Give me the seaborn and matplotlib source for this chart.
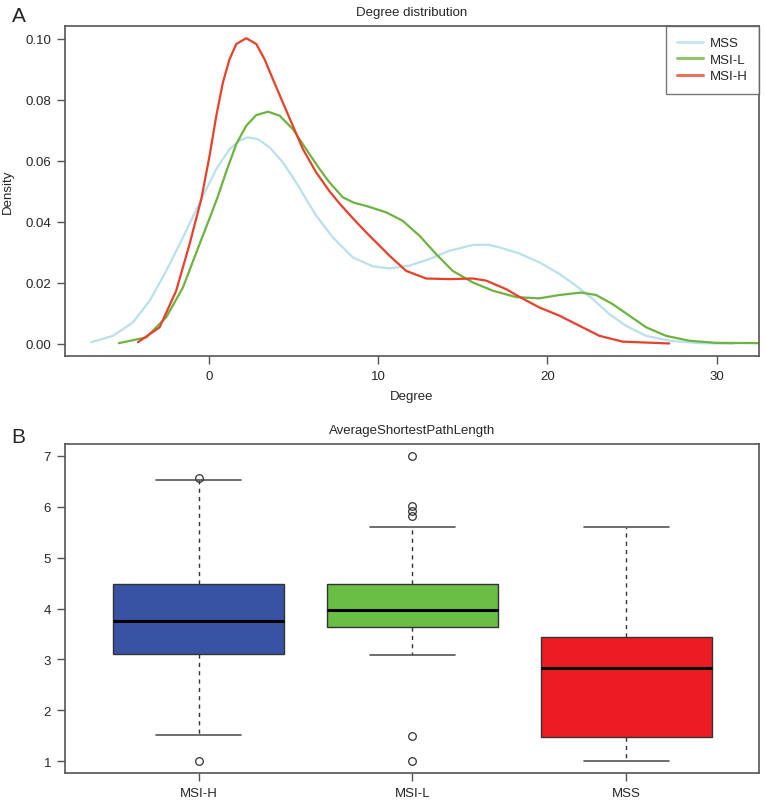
import numpy as np
import pandas as pd
import matplotlib
matplotlib.use("Agg")
import matplotlib.pyplot as plt
import seaborn as sns

# ---------------- data ----------------
mss_deg = [-6.95, -5.67, -4.49, -3.50, -2.52, -1.53, -0.55, -0.35, 0.44, 1.22, 1.81, 2.30, 2.89,
           3.59, 4.37, 5.16, 5.75, 6.34, 7.32, 8.51, 9.69, 10.67, 11.85, 13.04, 14.22, 15.60,
           16.50, 17.17, 18.35, 19.53, 20.72, 21.70, 22.68, 23.67, 24.65, 25.84, 27.21, 28.98, 31.0]
mss_den = [0.0005, 0.0026, 0.0070, 0.0141, 0.0239, 0.0349, 0.0462, 0.0485, 0.0573, 0.0638, 0.0666,
           0.0677, 0.0671, 0.0644, 0.0595, 0.0529, 0.0474, 0.0420, 0.0349, 0.0283, 0.0254, 0.0247,
           0.0256, 0.0278, 0.0305, 0.0324, 0.0325, 0.0316, 0.0296, 0.0267, 0.0229, 0.0190, 0.0147,
           0.0097, 0.0059, 0.0026, 0.0010, 0.0002, 0.0]

msil_deg = [-5.32, -3.70, -2.52, -1.53, -0.55, 0.24, 0.53, 1.03, 1.62, 2.21, 2.80, 3.49, 4.18,
            4.96, 5.75, 6.54, 7.13, 7.92, 8.60, 9.30, 10.48, 11.46, 12.45, 13.43, 14.41, 15.60,
            16.78, 18.16, 19.53, 20.72, 22.0, 22.88, 23.86, 24.85, 25.84, 27.02, 28.39, 29.97, 33.0]
msil_den = [0.0002, 0.0021, 0.0087, 0.0185, 0.0327, 0.0440, 0.0483, 0.0565, 0.0655, 0.0715, 0.0750,
            0.0761, 0.0748, 0.0704, 0.0638, 0.0573, 0.0529, 0.0480, 0.0462, 0.0452, 0.0431, 0.0403,
            0.0354, 0.0294, 0.0239, 0.0201, 0.0174, 0.0153, 0.0149, 0.0160, 0.0168, 0.0160, 0.0130,
            0.0092, 0.0054, 0.0026, 0.0010, 0.0003, 0.0002]

msih_deg = [-4.19, -2.91, -1.93, -1.14, -0.45, 0.04, 0.44, 0.83, 1.22, 1.62, 2.21, 2.80, 3.29,
            3.78, 4.37, 4.96, 5.56, 6.34, 7.13, 7.72, 8.50, 9.30, 10.67, 11.66, 12.84, 14.22,
            15.60, 16.39, 17.57, 18.35, 19.53, 20.72, 21.90, 23.08, 24.45, 27.2]
msih_den = [0.0005, 0.0054, 0.0174, 0.0327, 0.0474, 0.0616, 0.0748, 0.0857, 0.0933, 0.0983, 0.1002,
            0.0983, 0.0933, 0.0868, 0.0791, 0.0715, 0.0638, 0.0562, 0.0500, 0.0460, 0.0412, 0.0365,
            0.0289, 0.0239, 0.0214, 0.0212, 0.0214, 0.0207, 0.0179, 0.0154, 0.0119, 0.0092, 0.0059,
            0.0026, 0.0007, 0.0001]

density_groups = ["MSS", "MSI-L", "MSI-H"]
density_colors = ["#b9e0ec", "#6cb43f", "#e8402a"]

box_groups = ["MSI-H", "MSI-L", "MSS"]
box_colors = ["#3953a4", "#6bbe45", "#ed1c24"]
box_q1 = [3.10, 3.64, 1.48]
box_med = [3.75, 3.98, 2.83]
box_q3 = [4.49, 4.49, 3.45]
box_whislo = [1.51, 3.08, 1.00]
box_whishi = [6.52, 5.61, 5.61]
box_fliers = [[6.56, 1.00], [6.99, 6.02, 5.92, 5.81, 1.50, 1.00], []]

# ---------------- styling ----------------
sns.set_style("white")
plt.rcParams["font.family"] = ["Liberation Sans", "DejaVu Sans"]
axcol = "#555555"

fig = plt.figure(figsize=(7.65, 8.04), dpi=100)
axA = fig.add_axes([0.085, 0.556, 0.907, 0.4104])
axB = fig.add_axes([0.085, 0.0373, 0.907, 0.4092])

# ---------------- panel A ----------------
series = [(mss_deg, mss_den), (msil_deg, msil_den), (msih_deg, msih_den)]
for (xs, ys), name, col in zip(series, density_groups, density_colors):
    df = pd.DataFrame({"Degree": xs, "Density": ys})
    sns.lineplot(data=df, x="Degree", y="Density", ax=axA, color=col, lw=1.6,
                 label=name, sort=False, estimator=None,
                 solid_joinstyle="round", solid_capstyle="round")

axA.set_xlim(-8.5, 32.5)
axA.set_ylim(-0.004, 0.1042)
axA.set_xticks([0, 10, 20, 30])
axA.set_yticks([0.0, 0.02, 0.04, 0.06, 0.08, 0.10])
axA.set_yticklabels(["0.00", "0.02", "0.04", "0.06", "0.08", "0.10"])
axA.set_xlabel("Degree", fontsize=9.5, labelpad=6)
axA.set_ylabel("Density", fontsize=9.5, labelpad=8)
axA.set_title("Degree distribution", fontsize=9.5, pad=8)
leg = axA.legend(loc="upper right", fontsize=9.5, frameon=True, fancybox=False,
                 borderaxespad=0, handlelength=1.9, borderpad=0.85, labelspacing=0.32,
                 handletextpad=0.55)
leg.get_frame().set_edgecolor(axcol)
leg.get_frame().set_linewidth(1.0)
for h in leg.get_lines():
    h.set_linewidth(2.2)
    h.set_alpha(0.75)
fig.text(0.015, 0.98, "A", fontsize=15, va="center", ha="left")

# ---------------- panel B ----------------
stats = []
for i, g in enumerate(box_groups):
    stats.append(dict(label=g, q1=box_q1[i], med=box_med[i], q3=box_q3[i],
                      whislo=box_whislo[i], whishi=box_whishi[i], fliers=box_fliers[i]))
bp = axB.bxp(stats, positions=[1, 2, 3], widths=0.8, patch_artist=True,
             showfliers=True,
             boxprops=dict(edgecolor="#333333", linewidth=1.0),
             medianprops=dict(color="black", linewidth=2.2),
             whiskerprops=dict(color="#333333", linewidth=1.0, linestyle=(0, (3, 3))),
             capprops=dict(color="#555555", linewidth=1.2),
             flierprops=dict(marker="o", markerfacecolor="none", markeredgecolor="#333333",
                             markersize=5.5, markeredgewidth=0.9))
for patch, col in zip(bp["boxes"], box_colors):
    patch.set_facecolor(col)
for cap in bp["caps"]:
    xd = cap.get_xdata()
    c = (xd[0] + xd[1]) / 2
    cap.set_xdata([c - 0.2, c + 0.2])

axB.set_xlim(0.375, 3.62)
axB.set_ylim(0.77, 7.23)
axB.set_xticks([1, 2, 3])
axB.set_xticklabels(box_groups)
axB.set_yticks([1, 2, 3, 4, 5, 6, 7])
axB.set_title("AverageShortestPathLength", fontsize=9.5, pad=8)
fig.text(0.015, 0.456, "B", fontsize=15, va="center", ha="left")

for ax in (axA, axB):
    for s in ax.spines.values():
        s.set_color(axcol)
        s.set_linewidth(1.2)
    ax.tick_params(axis="both", which="both", direction="out", length=6, width=1.0,
                   color=axcol, labelsize=9.5, pad=4, bottom=True, left=True)

fig.savefig("out.png", dpi=100)
